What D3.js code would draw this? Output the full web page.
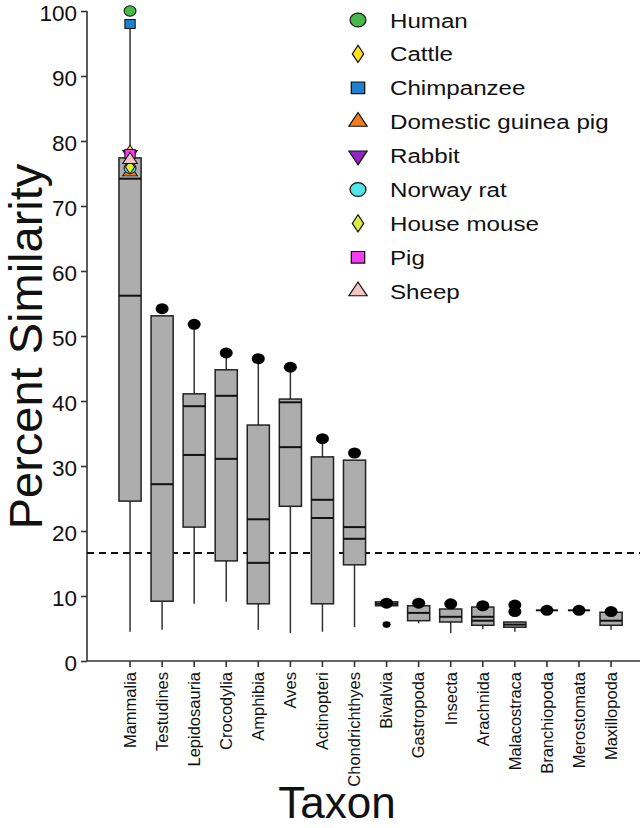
<!DOCTYPE html>
<html><head><meta charset="utf-8">
<script src="https://cdn.jsdelivr.net/npm/d3@7"></script>
<style>body{margin:0;background:#fff}</style>
</head><body>
<svg id="c" width="640" height="828"></svg>
<script>
// ---- data ----
const taxa = ["Mammalia","Testudines","Lepidosauria","Crocodylia","Amphibia","Aves","Actinopteri","Chondrichthyes","Bivalvia","Gastropoda","Insecta","Arachnida","Malacostraca","Branchiopoda","Merostomata","Maxillopoda"];
const whiskerLow  = [4.5, 4.8, 8.8, 9.1, 4.8, 4.3, 4.5, 5.2, 8.5, 5.8, 4.3, 4.9, 4.5, 7.8, 7.8, 4.8];
const q1          = [24.6, 9.2, 20.6, 15.4, 8.8, 23.8, 8.8, 14.8, 8.5, 6.2, 6.0, 5.5, 5.2, 7.8, 7.8, 5.5];
const lineA       = [56.2, 27.2, 31.7, 31.1, 15.1, 32.9, 22.0, 18.8, 8.8, 7.4, 6.8, 6.2, 5.6, 7.8, 7.8, 6.2];
const lineB       = [74.2, null, 39.2, 40.8, 21.8, 39.8, 24.8, 20.6, null, null, null, 6.8, null, null, null, null];
const q3          = [77.4, 53.1, 41.1, 44.8, 36.3, 40.3, 31.4, 30.9, 9.1, 8.5, 8.0, 8.3, 6.0, 7.8, 7.8, 7.5];
const whiskerHigh = [98.0, 53.1, 51.4, 46.6, 46.0, 44.8, 33.7, 30.9, 9.1, 8.5, 8.0, 8.3, 6.0, 7.8, 7.8, 7.5];
const outliers    = [[], [54.2], [51.8], [47.4], [46.5], [45.2], [34.2], [32.0], [8.9], [8.9], [8.8], [8.5], [8.6, 7.6], [7.8], [7.8], [7.6]];
const smallOutliers = [[], [], [], [], [], [], [], [], [5.6], [], [], [], [], [], [], []];

const species       = ["Human","Cattle","Chimpanzee","Domestic guinea pig","Rabbit","Norway rat","House mouse","Pig","Sheep"];
const speciesValues = [100, 78.3, 98, 75.2, 78.0, 75.8, 76.0, 78.0, 77.1];
const speciesColors = ["#46b94a","#ffe21a","#1f7fd0","#f07c22","#9424c8","#52e6e8","#dcee3a","#f23cf0","#f7c4c6"];
const speciesShapes = ["circle","diamond","square","triangle","triangleDown","circle","diamond","square","triangle"];

const yTicks = [0,10,20,30,40,50,60,70,80,90,100];
const threshold = 16.6;
const yTitle = "Percent Similarity";
const xTitle = "Taxon";

// ---- scales ----
const svg = d3.select("#c");
const y = d3.scaleLinear().domain([0,100]).range([661,11]);
const x = d3.scaleBand().domain(taxa).range([114,627.1]).paddingInner(0.31).paddingOuter(0.155);
const bw = x.bandwidth();
const cx = t => x(t) + bw/2;

// ---- axes ----
const yAxis = d3.axisLeft(y).tickValues(yTicks).tickSize(6).tickPadding(4).tickFormat(d3.format("d"));
const gy = svg.append("g").attr("transform","translate(87,0)").call(yAxis);
gy.select(".domain").attr("stroke","#333").attr("stroke-width",1.6).attr("d","M0,11V661");
gy.selectAll(".tick line").attr("stroke","#333").attr("stroke-width",1.6);
gy.selectAll(".tick text").attr("font-family","Liberation Sans, Arial, sans-serif").attr("font-size",22.5)
  .attr("dy","0.4em").attr("fill","#111");

const xAxis = d3.axisBottom(x).tickSize(6).tickPadding(6);
const gx = svg.append("g").attr("transform","translate(0,661)").call(xAxis);
gx.select(".domain").attr("stroke","#333").attr("stroke-width",1.6).attr("d","M87,0H640");
gx.selectAll(".tick line").attr("stroke","#333").attr("stroke-width",1.6);
gx.selectAll(".tick text")
  .attr("font-family","Liberation Sans, Arial, sans-serif").attr("font-size",16.5).attr("fill","#111")
  .attr("transform","rotate(-90)").attr("text-anchor","end")
  .attr("x",-11).attr("y",0).attr("dy","0.35em");

// ---- threshold line ----
svg.append("line").attr("x1",87).attr("x2",640).attr("y1",y(threshold)).attr("y2",y(threshold))
  .attr("stroke","#111").attr("stroke-width",2).attr("stroke-dasharray","7,5");

// ---- boxes ----
const boxes = svg.append("g");
taxa.forEach((t,i) => {
  const g = boxes.append("g");
  g.append("line").attr("x1",cx(t)).attr("x2",cx(t)).attr("y1",y(whiskerLow[i])).attr("y2",y(q1[i]))
    .attr("stroke","#333").attr("stroke-width",1.5);
  g.append("line").attr("x1",cx(t)).attr("x2",cx(t)).attr("y1",y(q3[i])).attr("y2",y(whiskerHigh[i]))
    .attr("stroke","#333").attr("stroke-width",1.5);
  g.append("rect").attr("x",x(t)).attr("width",bw).attr("y",y(q3[i])).attr("height",Math.max(0,y(q1[i])-y(q3[i])))
    .attr("fill","#adadad").attr("stroke","#222").attr("stroke-width",1.5);
  [lineA[i], lineB[i]].forEach(v => {
    if (v === null) return;
    g.append("line").attr("x1",x(t)).attr("x2",x(t)+bw).attr("y1",y(v)).attr("y2",y(v))
      .attr("stroke","#111").attr("stroke-width",2);
  });
  outliers[i].forEach(v => {
    g.append("ellipse").attr("cx",cx(t)).attr("cy",y(v)).attr("rx",6.5).attr("ry",5.5).attr("fill","#000");
  });
  smallOutliers[i].forEach(v => {
    g.append("ellipse").attr("cx",cx(t)).attr("cy",y(v)).attr("rx",4).attr("ry",3.3).attr("fill","#000");
  });
});

// ---- species markers ----
const symType = {circle:d3.symbolCircle, diamond:d3.symbolDiamond, square:d3.symbolSquare, triangle:d3.symbolTriangle, triangleDown:d3.symbolTriangle};
function marker(sel, shape, size) {
  return sel.append("path").attr("d", d3.symbol().type(symType[shape]).size(size)());
}
const plotSize = {circle:85, diamond:55, square:80, triangle:70, triangleDown:70};
const legendSize = {circle:150, diamond:85, square:135, triangle:110, triangleDown:110};
const mx = cx("Mammalia");
species.forEach((s,i) => {
  const sh = speciesShapes[i];
  const g = svg.append("g").attr("transform",`translate(${mx},${y(speciesValues[i])}) scale(1.15,1)` + (sh==="triangleDown"?" rotate(180)":""));
  marker(g, sh, plotSize[sh]).attr("fill",speciesColors[i]).attr("stroke","#111").attr("stroke-width",0.9);
});

// ---- legend ----
const legend = svg.append("g");
species.forEach((s,i) => {
  const sh = speciesShapes[i];
  const yy = 20 + i*33.9;
  const g = legend.append("g").attr("transform",`translate(358,${yy}) scale(1.15,1)` + (sh==="triangleDown"?" rotate(180)":""));
  marker(g, sh, legendSize[sh]).attr("fill",speciesColors[i]).attr("stroke","#111").attr("stroke-width",1.1);
  legend.append("text").attr("transform",`translate(390,${yy+7.5}) scale(1.15,1)`)
    .attr("font-family","Liberation Sans, Arial, sans-serif").attr("font-size",21).attr("fill","#111").text(s);
});

// ---- titles ----
svg.append("text").attr("transform","translate(42,346.5) rotate(-90)").attr("text-anchor","middle")
  .attr("font-family","Liberation Sans, Arial, sans-serif").attr("font-size",47).attr("fill","#111").text(yTitle);
svg.append("text").attr("x",337).attr("y",818).attr("text-anchor","middle")
  .attr("font-family","Liberation Sans, Arial, sans-serif").attr("font-size",44).attr("fill","#111").text(xTitle);
</script>
</body></html>
